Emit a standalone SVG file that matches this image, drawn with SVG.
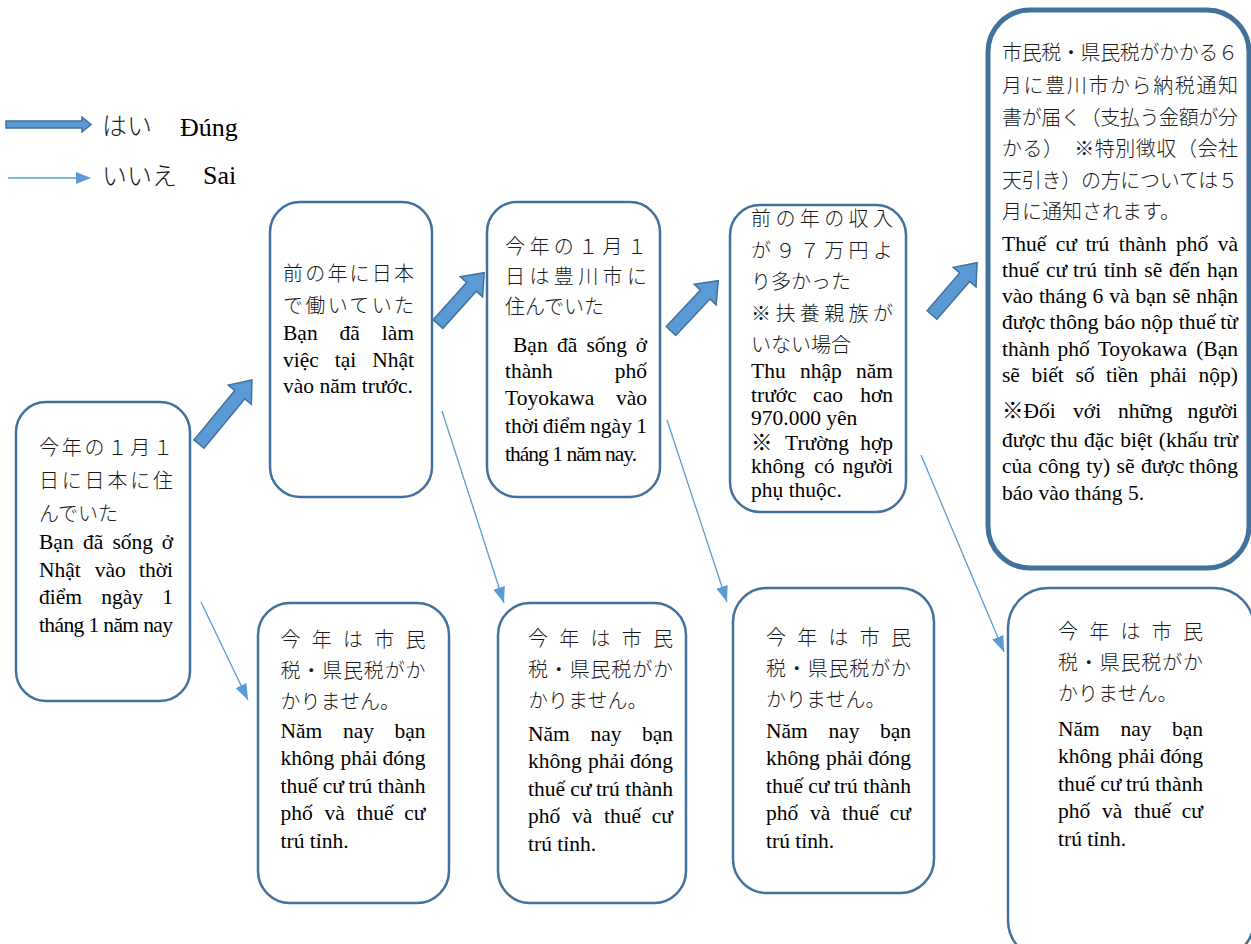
<svg xmlns="http://www.w3.org/2000/svg" width="1251" height="944" viewBox="0 0 1251 944">
<style>
.box{fill:#fff;stroke:#41719C;stroke-width:2.5}
.jp{font-family:"Noto Sans CJK JP",sans-serif;font-size:20px;fill:#1a1a1a;font-weight:300}
.vn{font-family:"Liberation Serif","Noto Sans CJK JP",serif;font-size:21.5px;fill:#000}
.e{text-anchor:end}
.blk{fill:#5B9BD5;stroke:#41719C;stroke-width:1.5}
.thin{stroke:#5B9BD5;stroke-width:1.3;fill:none;marker-end:url(#ah)}
</style>
<defs>
<marker id="ah" markerUnits="userSpaceOnUse" markerWidth="16" markerHeight="12" refX="16" refY="6" orient="auto">
<path d="M0,0 L16,6 L0,12 z" fill="#5B9BD5"/>
</marker>
</defs>
<rect width="1251" height="944" fill="#fff"/>

<g id="legend">
<polygon class="blk" points="6,121 82,121 82,117 91,124.5 82,132 82,128 6,128"/>
<text class="jp" x="102" y="135" style="font-size:25px">はい</text>
<text class="vn" x="180" y="136" style="font-size:26px">Đúng</text>
<line x1="8" y1="178" x2="77" y2="178" stroke="#5B9BD5" stroke-width="1.3"/>
<polygon points="76,172 91,178 76,184" fill="#5B9BD5"/>
<text class="jp" x="102" y="185" style="font-size:25px">いいえ</text>
<text class="vn" x="203" y="184" style="font-size:26px">Sai</text>
</g>

<g id="connectors">
<polygon class="blk" transform="translate(199,444) rotate(-50.4)" points="0,-6.5 64,-6.5 64,-15 83,0 64,15 64,6.5 0,6.5"/>
<polygon class="blk" transform="translate(438,324) rotate(-48)" points="0,-6.5 50,-6.5 50,-15 69,0 50,15 50,6.5 0,6.5"/>
<polygon class="blk" transform="translate(671,331) rotate(-46.8)" points="0,-6.5 50,-6.5 50,-15 69,0 50,15 50,6.5 0,6.5"/>
<polygon class="blk" transform="translate(932,315) rotate(-49.2)" points="0,-6.5 50,-6.5 50,-15 69,0 50,15 50,6.5 0,6.5"/>
<line class="thin" x1="201" y1="602" x2="248" y2="700"/>
<line class="thin" x1="442" y1="411" x2="504" y2="603"/>
<line class="thin" x1="667" y1="420" x2="727" y2="602"/>
<line class="thin" x1="921" y1="455" x2="1004" y2="652"/>
</g>

<g id="node-a">
<rect class="box" x="16" y="402" width="174" height="299" rx="30"/>
<text class="jp" x="39" y="455" textLength="134" lengthAdjust="spacing">今年の１月１</text>
<text class="jp" x="39" y="488" textLength="134" lengthAdjust="spacing">日に日本に住</text>
<text class="jp" x="39" y="521">んでいた</text>
<text class="vn" y="549"><tspan x="39">Bạn</tspan><tspan x="82.9">đã</tspan><tspan x="112.4">sống</tspan></text><text class="vn e" x="173" y="549">ở</text>
<text class="vn" y="577"><tspan x="39">Nhật</tspan><tspan x="94.7">vào</tspan></text><text class="vn e" x="173" y="577">thời</text>
<text class="vn" y="604"><tspan x="39">điểm</tspan><tspan x="101.2">ngày</tspan></text><text class="vn e" x="173" y="604">1</text>
<text class="vn" x="39" y="632" textLength="134" lengthAdjust="spacing">tháng 1 năm nay</text>
</g>

<g id="node-b">
<rect class="box" x="270" y="202" width="162" height="295" rx="30"/>
<text class="jp" x="283" y="281" textLength="131" lengthAdjust="spacing">前の年に日本</text>
<text class="jp" x="283" y="313" textLength="131" lengthAdjust="spacing">で働いていた</text>
<text class="vn" y="340"><tspan x="283">Bạn</tspan><tspan x="339.5">đã</tspan></text><text class="vn e" x="414" y="340">làm</text>
<text class="vn" y="367"><tspan x="283">việc</tspan><tspan x="334.8">tại</tspan></text><text class="vn e" x="414" y="367">Nhật</text>
<text class="vn" x="283" y="393">vào năm trước.</text>
</g>

<g id="node-c">
<rect class="box" x="487" y="202" width="173" height="295" rx="30"/>
<text class="jp" x="505" y="254" textLength="142" lengthAdjust="spacing">今年の１月１</text>
<text class="jp" x="505" y="284" textLength="142" lengthAdjust="spacing">日は豊川市に</text>
<text class="jp" x="505" y="314">住んでいた</text>
<text class="vn" y="352"><tspan x="513">Bạn</tspan><tspan x="556.9">đã</tspan><tspan x="586.4">sống</tspan></text><text class="vn e" x="647" y="352">ở</text>
<text class="vn" x="505" y="378">thành</text><text class="vn e" x="647" y="378">phố</text>
<text class="vn" x="505" y="405">Toyokawa</text><text class="vn e" x="647" y="405">vào</text>
<text class="vn" y="433"><tspan x="505">thời</tspan><tspan x="542.8">điểm</tspan><tspan x="590.1">ngày</tspan></text><text class="vn e" x="647" y="433">1</text>
<text class="vn" x="505" y="461" textLength="132" lengthAdjust="spacing">tháng 1 năm nay.</text>
</g>

<g id="node-d">
<rect class="box" x="730" y="205" width="176" height="307" rx="30"/>
<text class="jp" x="751" y="226" textLength="142" lengthAdjust="spacing">前の年の収入</text>
<text class="jp" x="751" y="258" textLength="142" lengthAdjust="spacing">が９７万円よ</text>
<text class="jp" x="751" y="289">り多かった</text>
<text class="jp" x="751" y="321" textLength="142" lengthAdjust="spacing">※扶養親族が</text>
<text class="jp" x="751" y="352">いない場合</text>
<text class="vn" y="378"><tspan x="751">Thu</tspan><tspan x="799.9">nhập</tspan></text><text class="vn e" x="893" y="378">năm</text>
<text class="vn" y="402"><tspan x="751">trước</tspan><tspan x="813.1">cao</tspan></text><text class="vn e" x="893" y="402">hơn</text>
<text class="vn" x="751" y="425">970.000 yên</text>
<text class="vn" y="450"><tspan x="751">※</tspan><tspan x="785">Trường</tspan></text><text class="vn e" x="893" y="450">hợp</text>
<text class="vn" y="473"><tspan x="751">không</tspan><tspan x="814.3">có</tspan></text><text class="vn e" x="893" y="473">người</text>
<text class="vn" x="751" y="497">phụ thuộc.</text>
</g>

<g id="node-e">
<rect class="box" x="988" y="10" width="261" height="558" rx="42" style="stroke-width:5"/>
<text class="jp" x="1002" y="60" textLength="236" lengthAdjust="spacing">市民税・県民税がかかる６</text>
<text class="jp" x="1002" y="93" textLength="236" lengthAdjust="spacing">月に豊川市から納税通知</text>
<text class="jp" x="1002" y="125" textLength="236" lengthAdjust="spacing">書が届く（支払う金額が分</text>
<text class="jp" x="1002" y="156" textLength="236" lengthAdjust="spacing">かる）　※特別徴収（会社</text>
<text class="jp" x="1002" y="188" textLength="236" lengthAdjust="spacing">天引き）の方については５</text>
<text class="jp" x="1002" y="219">月に通知されます。</text>
<text class="vn" y="251"><tspan x="1002">Thuế</tspan><tspan x="1055.7">cư</tspan><tspan x="1085.4">trú</tspan><tspan x="1118.8">thành</tspan><tspan x="1176">phố</tspan></text><text class="vn e" x="1238" y="251">và</text>
<text class="vn" y="277"><tspan x="1002">thuế</tspan><tspan x="1045.9">cư</tspan><tspan x="1073.1">trú</tspan><tspan x="1103.9">tỉnh</tspan><tspan x="1144.3">sẽ</tspan><tspan x="1169.1">đến</tspan></text><text class="vn e" x="1238" y="277">hạn</text>
<text class="vn" y="303"><tspan x="1002">vào</tspan><tspan x="1038.9">tháng</tspan><tspan x="1092.6">6</tspan><tspan x="1109.3">và</tspan><tspan x="1135.5">bạn</tspan><tspan x="1172.4">sẽ</tspan></text><text class="vn e" x="1238" y="303">nhận</text>
<text class="vn" y="329"><tspan x="1002">được</tspan><tspan x="1049.5">thông</tspan><tspan x="1104.1">báo</tspan><tspan x="1140.8">nộp</tspan><tspan x="1178.7">thuế</tspan></text><text class="vn e" x="1238" y="329">từ</text>
<text class="vn" y="356"><tspan x="1002">thành</tspan><tspan x="1057.6">phố</tspan><tspan x="1097.7">Toyokawa</tspan></text><text class="vn e" x="1238" y="356">(Bạn</text>
<text class="vn" y="382"><tspan x="1002">sẽ</tspan><tspan x="1031.5">biết</tspan><tspan x="1075.4">số</tspan><tspan x="1106.1">tiền</tspan><tspan x="1150">phải</tspan></text><text class="vn e" x="1238" y="382">nộp)</text>
<text class="vn" y="418"><tspan x="1002">※Đối</tspan><tspan x="1073.1">với</tspan><tspan x="1117.9">những</tspan></text><text class="vn e" x="1238" y="418">người</text>
<text class="vn" y="447"><tspan x="1002">được</tspan><tspan x="1050.2">thu</tspan><tspan x="1084">đặc</tspan><tspan x="1120.2">biệt</tspan><tspan x="1158.8">(khấu</tspan></text><text class="vn e" x="1238" y="447">trừ</text>
<text class="vn" y="473"><tspan x="1002">của</tspan><tspan x="1038.2">công</tspan><tspan x="1086.3">ty)</tspan><tspan x="1116.6">sẽ</tspan><tspan x="1140.9">được</tspan></text><text class="vn e" x="1238" y="473">thông</text>
<text class="vn" x="1002" y="500">báo vào tháng 5.</text>
</g>

<g id="node-f">
<rect class="box" x="258" y="603" width="191" height="300" rx="32"/>
<g transform="translate(280.5,0)">
<text class="jp" x="0" y="647" textLength="145" lengthAdjust="spacing">今年は市民</text>
<text class="jp" x="0" y="678" textLength="145" lengthAdjust="spacing">税・県民税がか</text>
<text class="jp" x="0" y="709">かりません。</text>
<text class="vn" y="738"><tspan x="0">Năm</tspan><tspan x="62.4">nay</tspan></text><text class="vn e" x="145" y="738">bạn</text>
<text class="vn" y="765"><tspan x="0">không</tspan><tspan x="60">phải</tspan></text><text class="vn e" x="145" y="765">đóng</text>
<text class="vn" y="793"><tspan x="0">thuế</tspan><tspan x="42.3">cư</tspan><tspan x="67.9">trú</tspan></text><text class="vn e" x="145" y="793">thành</text>
<text class="vn" y="820"><tspan x="0">phố</tspan><tspan x="44">và</tspan><tspan x="76">thuế</tspan></text><text class="vn e" x="145" y="820">cư</text>
<text class="vn" x="0" y="848">trú tỉnh.</text>
</g>
</g>

<g id="node-g">
<rect class="box" x="498" y="603" width="188" height="300" rx="32"/>
<g transform="translate(528,0)">
<text class="jp" x="0" y="646" textLength="145" lengthAdjust="spacing">今年は市民</text>
<text class="jp" x="0" y="677" textLength="145" lengthAdjust="spacing">税・県民税がか</text>
<text class="jp" x="0" y="708">かりません。</text>
</g>
<g transform="translate(528,3)">
<text class="vn" y="738"><tspan x="0">Năm</tspan><tspan x="62.4">nay</tspan></text><text class="vn e" x="145" y="738">bạn</text>
<text class="vn" y="765"><tspan x="0">không</tspan><tspan x="60">phải</tspan></text><text class="vn e" x="145" y="765">đóng</text>
<text class="vn" y="793"><tspan x="0">thuế</tspan><tspan x="42.3">cư</tspan><tspan x="67.9">trú</tspan></text><text class="vn e" x="145" y="793">thành</text>
<text class="vn" y="820"><tspan x="0">phố</tspan><tspan x="44">và</tspan><tspan x="76">thuế</tspan></text><text class="vn e" x="145" y="820">cư</text>
<text class="vn" x="0" y="848">trú tỉnh.</text>
</g>
</g>

<g id="node-h">
<rect class="box" x="733" y="588" width="201" height="305" rx="34"/>
<g transform="translate(766,-2)">
<text class="jp" x="0" y="647" textLength="145" lengthAdjust="spacing">今年は市民</text>
<text class="jp" x="0" y="678" textLength="145" lengthAdjust="spacing">税・県民税がか</text>
<text class="jp" x="0" y="709">かりません。</text>
<text class="vn" y="740"><tspan x="0">Năm</tspan><tspan x="62.4">nay</tspan></text><text class="vn e" x="145" y="740">bạn</text>
<text class="vn" y="767"><tspan x="0">không</tspan><tspan x="60">phải</tspan></text><text class="vn e" x="145" y="767">đóng</text>
<text class="vn" y="795"><tspan x="0">thuế</tspan><tspan x="42.3">cư</tspan><tspan x="67.9">trú</tspan></text><text class="vn e" x="145" y="795">thành</text>
<text class="vn" y="822"><tspan x="0">phố</tspan><tspan x="44">và</tspan><tspan x="76">thuế</tspan></text><text class="vn e" x="145" y="822">cư</text>
<text class="vn" x="0" y="850">trú tỉnh.</text>
</g>
</g>

<g id="node-i">
<rect class="box" x="1008" y="588" width="246" height="372" rx="40"/>
<g transform="translate(1058,-8)">
<text class="jp" x="0" y="647" textLength="145" lengthAdjust="spacing">今年は市民</text>
<text class="jp" x="0" y="678" textLength="145" lengthAdjust="spacing">税・県民税がか</text>
<text class="jp" x="0" y="709">かりません。</text>
</g>
<g transform="translate(1058,-2)">
<text class="vn" y="738"><tspan x="0">Năm</tspan><tspan x="62.4">nay</tspan></text><text class="vn e" x="145" y="738">bạn</text>
<text class="vn" y="765"><tspan x="0">không</tspan><tspan x="60">phải</tspan></text><text class="vn e" x="145" y="765">đóng</text>
<text class="vn" y="793"><tspan x="0">thuế</tspan><tspan x="42.3">cư</tspan><tspan x="67.9">trú</tspan></text><text class="vn e" x="145" y="793">thành</text>
<text class="vn" y="820"><tspan x="0">phố</tspan><tspan x="44">và</tspan><tspan x="76">thuế</tspan></text><text class="vn e" x="145" y="820">cư</text>
<text class="vn" x="0" y="848">trú tỉnh.</text>
</g>
</g>
</svg>
